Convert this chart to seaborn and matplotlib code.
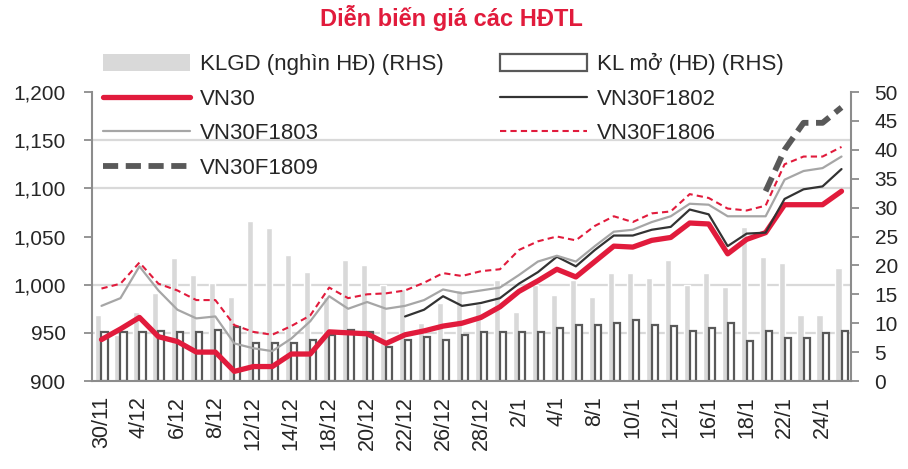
import numpy as np
import pandas as pd
import matplotlib
matplotlib.use("Agg")
import matplotlib.pyplot as plt
import seaborn as sns
from matplotlib.patches import Patch
from matplotlib.ticker import FuncFormatter

# trading days (x axis), every other one is labelled
days = ["30/11", "1/12", "4/12", "5/12", "6/12", "7/12", "8/12", "11/12", "12/12", "13/12",
        "14/12", "15/12", "18/12", "19/12", "20/12", "21/12", "22/12", "25/12", "26/12", "27/12",
        "28/12", "29/12", "2/1", "3/1", "4/1", "5/1", "8/1", "9/1", "10/1", "11/1",
        "12/1", "15/1", "16/1", "17/1", "18/1", "19/1", "22/1", "23/1", "24/1", "25/1"]

# prices (LHS)
vn30 = [943, 954, 966, 946, 941, 930, 930, 910, 915, 915, 928, 928, 951, 950, 949, 939, 948, 952, 957, 960,
        966, 977, 993, 1004, 1016, 1008, 1024, 1040, 1039, 1046, 1049, 1064, 1063, 1032, 1047, 1054, 1083, 1083, 1083, 1097]
f1802 = [np.nan] * 16 + [967, 974, 988, 978, 981, 986, 1001, 1013, 1029, 1019, 1036, 1051,
                         1051, 1057, 1060, 1078, 1073, 1040, 1053, 1054, 1089, 1099, 1102, 1120]
f1803 = [978, 986, 1019, 994, 974, 965, 967, 939, 934, 931, 944, 962, 988, 975, 982, 975, 978, 984, 995, 991,
         994, 997, 1010, 1024, 1030, 1024, 1040, 1055, 1057, 1065, 1071, 1084, 1083, 1071, 1071, 1071, 1109, 1118, 1121, 1133]
f1806 = [996, 1001, 1023, 1001, 994, 984, 984, 958, 951, 948, 957, 968, 997, 986, 990, 991, 994, 1002, 1012, 1009,
         1014, 1016, 1036, 1045, 1050, 1046, 1061, 1071, 1065, 1074, 1076, 1094, 1090, 1079, 1077, 1082, 1125, 1133, 1133, 1143]
f1809 = [np.nan] * 35 + [1097, 1140, 1168, 1168, 1184]

# volumes (RHS)
klgd = [11.4, 8.0, 12.0, 15.3, 21.3, 18.3, 16.9, 14.5, 27.7, 26.4, 21.8, 18.8, 14.6, 20.9, 20.1, 16.6, 16.0, 10.1, 13.5, 15.8,
        13.4, 17.5, 12.0, 16.6, 14.9, 17.5, 14.5, 18.7, 18.7, 17.9, 20.9, 16.6, 18.7, 16.2, 26.6, 21.4, 20.5, 11.4, 11.4, 19.5]
kl_mo = [8.4, 8.4, 8.4, 8.7, 8.4, 8.4, 8.8, 9.3, 6.6, 6.6, 6.6, 7.1, 8.0, 8.8, 8.4, 5.9, 7.1, 7.6, 7.1, 8.0,
         8.4, 8.4, 8.4, 8.4, 9.1, 9.7, 9.7, 10.1, 10.5, 9.7, 9.6, 8.7, 9.2, 10.1, 7.0, 8.7, 7.4, 7.4, 8.3, 8.7]

bar_names = ["KLGD (nghìn HĐ) (RHS)", "KL mở (HĐ) (RHS)"]
RED = "#E11B3C"
GREY_AX = "#8C8C8C"

sns.set_style("white")
plt.rcParams["font.family"] = ["Liberation Sans", "DejaVu Sans"]

fig = plt.figure(figsize=(9.08, 4.69), dpi=100)
ax = fig.add_axes([92 / 908, 88 / 469, 759 / 908, 289 / 469])
ax2 = ax.twinx()
# lines (LHS) above the bars (RHS)
ax.set_zorder(ax2.get_zorder() + 1)
ax.patch.set_visible(False)

bars_df = pd.DataFrame({
    "day": days * 2,
    "series": [bar_names[0]] * len(days) + [bar_names[1]] * len(days),
    "value": klgd + kl_mo,
})
sns.barplot(data=bars_df, x="day", y="value", hue="series", order=days, hue_order=bar_names,
            palette=["#D9D9D9", "white"], saturation=1, width=0.64, errorbar=None,
            legend=False, ax=ax2)
for p in ax2.containers[1]:
    p.set_edgecolor("#595959")
    p.set_linewidth(1.6)

x = np.arange(len(days))
sns.lineplot(x=x, y=vn30, ax=ax, color=RED, linewidth=3.8)
sns.lineplot(x=x, y=f1802, ax=ax, color="#333333", linewidth=1.6)
sns.lineplot(x=x, y=f1803, ax=ax, color="#A6A6A6", linewidth=1.6)
sns.lineplot(x=x, y=f1806, ax=ax, color=RED, linewidth=1.5, linestyle=(0, (3, 2)))
sns.lineplot(x=x, y=f1809, ax=ax, color="#595959", linewidth=4.2, linestyle=(0, (2.6, 1.3)))

# axes
ax.set_xlim(-0.5, len(days) - 0.5)
ax.set_ylim(900, 1200)
ax2.set_ylim(0, 50)
ax.set_yticks(np.arange(900, 1201, 50))
ax.yaxis.set_major_formatter(FuncFormatter(lambda v, _: f"{v:,.0f}"))
ax2.set_yticks(np.arange(0, 51, 5))
ax2.set_yticks(np.linspace(0, 50, 7), minor=True)
ax2.yaxis.grid(True, which="minor", color="#D9D9D9", linewidth=1.6)
ax2.yaxis.grid(False, which="major")
ax2.tick_params(axis="y", which="minor", length=0)
ax2.set_ylabel("")
ax2.set_xlabel("")

ax.set_xticks(x[::2])
ax.set_xticklabels(days[::2], rotation=90)
ax.set_xticks(np.arange(-0.5, len(days)), minor=True)
ax.tick_params(axis="x", which="major", length=0, pad=11, labelsize=15.5)
ax.tick_params(axis="x", which="minor", length=5, width=1.3, color=GREY_AX, direction="out")
ax.tick_params(axis="y", length=6, width=1.3, color=GREY_AX, direction="out", pad=13, labelsize=15)
ax2.tick_params(axis="y", which="major", length=6, width=1.3, color=GREY_AX, direction="out",
                pad=11, labelsize=15)
ax.set_xlabel("")
ax.set_ylabel("")

for a in (ax, ax2):
    a.spines["top"].set_visible(False)
    for s in a.spines.values():
        s.set_color(GREY_AX)
        s.set_linewidth(1.5)
ax.spines["right"].set_visible(False)
ax2.spines["left"].set_visible(False)
ax2.spines["bottom"].set_visible(False)

# legend
handles = [
    Patch(facecolor="#D9D9D9", edgecolor="none"),
    ax.lines[0], ax.lines[2], ax.lines[4],
    Patch(facecolor="white", edgecolor="#595959", linewidth=1.6),
    ax.lines[1], ax.lines[3],
]
labels = [bar_names[0], "VN30", "VN30F1803", "VN30F1809", bar_names[1], "VN30F1802", "VN30F1806"]
fig.legend(handles, labels, ncol=2, loc="upper left", bbox_to_anchor=(103 / 908, 1 - 53 / 469),
           frameon=False, fontsize=16, handlelength=3.9, handleheight=0.8, handletextpad=0.45,
           columnspacing=2.55, labelspacing=0.6, borderpad=0, borderaxespad=0)

fig.text(0.497, 1 - 18 / 469, "Diễn biến giá các HĐTL", ha="center", va="center",
         fontsize=17, fontweight="bold", color=RED)

fig.savefig("out.png", dpi=100, facecolor="white")
